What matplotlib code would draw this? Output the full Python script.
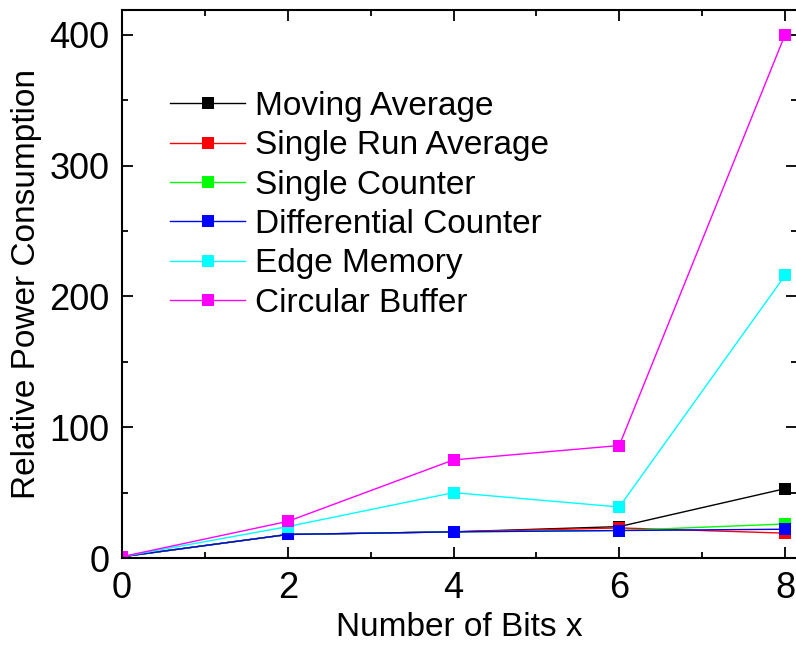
import matplotlib.pyplot as plt
from matplotlib.ticker import MultipleLocator

# data
bits = [0, 2, 4, 6, 8]
moving_average = [1, 18, 20, 24, 53]
single_run_average = [1, 18, 20, 23, 19]
single_counter = [1, 18, 20, 21, 26]
differential_counter = [1, 18, 20, 21, 22]
edge_memory = [1, 24, 50, 39, 216]
circular_buffer = [1, 28, 75, 86, 400]

series = [
    ('Moving Average', moving_average, '#000000'),
    ('Single Run Average', single_run_average, '#ff0000'),
    ('Single Counter', single_counter, '#00ff00'),
    ('Differential Counter', differential_counter, '#0000ff'),
    ('Edge Memory', edge_memory, '#00ffff'),
    ('Circular Buffer', circular_buffer, '#ff00ff'),
]

plt.rcParams['font.family'] = ['Liberation Sans', 'DejaVu Sans']

fig = plt.figure(figsize=(7.96, 6.54), dpi=100)
px_per_unit = (785 - 122) / 8
xmax = 8.15
ax = fig.add_axes([122 / 796, 96 / 654, xmax * px_per_unit / 796, 548 / 654])

for name, vals, col in series:
    ax.plot(bits, vals, color=col, lw=1.0, marker='s', markersize=8,
            markeredgewidth=0, label=name)

ax.set_xlim(0, xmax)
ax.set_ylim(0, 419)
ax.xaxis.set_major_locator(MultipleLocator(2))
ax.xaxis.set_minor_locator(MultipleLocator(1))
ax.yaxis.set_major_locator(MultipleLocator(100))
ax.yaxis.set_minor_locator(MultipleLocator(50))
ax.tick_params(which='both', direction='in', top=True, right=True, width=1.3)
ax.tick_params(which='major', length=8, labelsize=26)
ax.tick_params(axis='x', which='major', pad=9)
ax.tick_params(axis='y', which='major', pad=9)
ax.tick_params(which='minor', length=4)
for s in ax.spines.values():
    s.set_linewidth(1.5)

ax.set_xlabel('Number of Bits x', fontsize=24, labelpad=5)
ax.set_ylabel('Relative Power Consumption', fontsize=24, labelpad=5)

ax_w = xmax * px_per_unit
ax.legend(loc='upper left', bbox_to_anchor=((170 - 122) / ax_w, (558 - 91) / 548),
          frameon=False, fontsize=24, handlelength=2.25, handletextpad=0.3,
          labelspacing=0.25, borderpad=0, borderaxespad=0)

fig.savefig('out.png', dpi=100)
